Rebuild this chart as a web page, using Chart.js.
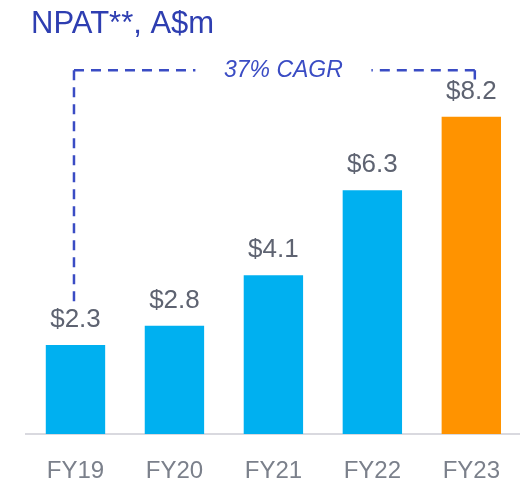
<!DOCTYPE html>
<html>
<head>
<meta charset="utf-8">
<script src="https://cdn.jsdelivr.net/npm/chart.js@4.4.0/dist/chart.umd.min.js"></script>
<style>
  html, body { margin: 0; padding: 0; background: #fff; overflow: hidden; }
  #myCanvas { display: block; }
</style>
</head>
<body>
<canvas id="myCanvas" width="523" height="485"></canvas>
<script>
var years = ['FY19', 'FY20', 'FY21', 'FY22', 'FY23'];
var npat = [2.3, 2.8, 4.1, 6.3, 8.2];
var barColors = ['#00b0f0', '#00b0f0', '#00b0f0', '#00b0f0', '#ff9300'];
var cagrText = '37% CAGR';

var FONT = '"Liberation Sans", Arial, sans-serif';

// value labels above bars + title + CAGR bracket
var extras = {
    id: 'extras',
    afterDatasetsDraw: function (chart) {
        var ctx = chart.ctx;
        var meta = chart.getDatasetMeta(0);
        var xs = chart.scales.x;
        var ys = chart.scales.y;

        ctx.save();
        ctx.font = '26px ' + FONT;
        ctx.fillStyle = '#5e6371';
        ctx.textAlign = 'center';
        ctx.textBaseline = 'alphabetic';
        meta.data.forEach(function (bar, i) {
            ctx.fillText('$' + npat[i].toFixed(1), bar.x, bar.y - 18);
        });

        // title
        ctx.font = '31px ' + FONT;
        ctx.fillStyle = '#2e3eb1';
        ctx.textAlign = 'left';
        ctx.fillText('NPAT**, A$m', 31, 33);

        // bracket
        var xl = xs.getPixelForValue(0) - 1.5;
        var xr = xs.getPixelForValue(4) + 3.5;
        var yt = ys.getPixelForValue(9.4);
        var ylb = ys.getPixelForValue(3.39);
        var yrb = ys.getPixelForValue(9.16);
        var mid = (xl + xr) / 2 + 9;

        ctx.strokeStyle = '#3a4cc4';
        ctx.lineWidth = 2.5;
        ctx.setLineDash([10, 7]);
        ctx.beginPath();
        ctx.moveTo(xl, yt); ctx.lineTo(xl, ylb);
        ctx.moveTo(xl, yt); ctx.lineTo(mid - 88, yt);
        ctx.moveTo(xr, yt); ctx.lineTo(xr, yrb);
        ctx.moveTo(xr, yt); ctx.lineTo(mid + 88, yt);
        ctx.stroke();
        ctx.setLineDash([]);

        ctx.font = 'italic 23px ' + FONT;
        ctx.fillStyle = '#3a4cc4';
        ctx.textAlign = 'center';
        ctx.fillText(cagrText, mid, yt + 7);
        ctx.restore();
    }
};

var chartdata = {
    labels: years,
    datasets: [
        {
            label: 'NPAT',
            backgroundColor: barColors,
            borderWidth: 0,
            data: npat,
            barPercentage: 0.6,
            categoryPercentage: 1
        }
    ]
};

var ctx = document.getElementById('myCanvas');

var barGraph = new Chart(ctx, {
    type: 'bar',
    data: chartdata,
    plugins: [extras],
    options: {
        responsive: false,
        animation: false,
        layout: { padding: { left: 26, right: 0, top: 47, bottom: 2 } },
        plugins: {
            legend: { display: false },
            tooltip: { enabled: false }
        },
        scales: {
            x: {
                grid: { display: false, drawTicks: false },
                border: { display: true, color: '#d9d9df', width: 2 },
                ticks: {
                    color: '#7b808b',
                    font: { family: FONT, size: 24 },
                    padding: 23
                },
                afterFit: function (scale) { scale.height = 49; }
            },
            y: {
                display: false,
                min: 0,
                max: 10
            }
        }
    }
});
</script>
</body>
</html>
